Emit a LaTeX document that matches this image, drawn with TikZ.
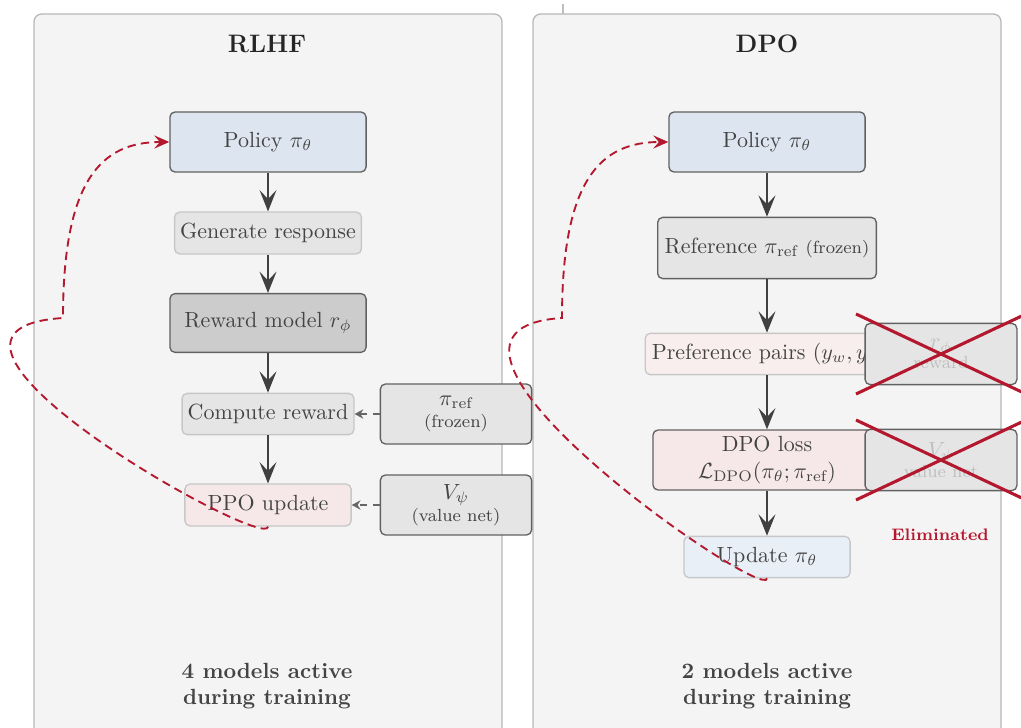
\documentclass[tikz,border=0pt]{standalone}
\usepackage{amsmath,amssymb}
\usepackage{xcolor}
\usepackage{tikz}
\usetikzlibrary{arrows.meta,positioning}
\definecolor{txtc}{RGB}{68,68,68}
\definecolor{elimc}{RGB}{180,24,46}
\definecolor{panelc}{RGB}{244,244,244}
\definecolor{polc}{RGB}{221,230,240}
\definecolor{updc}{RGB}{232,239,247}
\definecolor{lossc}{RGB}{246,232,232}
\definecolor{pairc}{RGB}{249,238,238}
\definecolor{stepc}{RGB}{229,229,229}
\definecolor{rmc}{RGB}{204,204,204}

\begin{document}
\begin{tikzpicture}[x=0.016cm,y=-0.016cm,font=\normalsize,
  panel/.style={draw=black!28,fill=panelc,rounded corners=3.5pt,line width=0.6pt},
  ttl/.style={font=\fontsize{11.5}{13}\selectfont\bfseries,text=black!85},
  box/.style={rounded corners=2.3pt,text=txtc,align=center,inner sep=2pt},
  solidbox/.style={box,draw=black!62,line width=0.6pt},
  softbox/.style={box,draw=black!22,line width=0.6pt},
  gone/.style={solidbox,fill=stepc,text=black!25,minimum width=2.43cm,minimum height=0.98cm},
  flow/.style={-{Stealth[length=3.4mm,width=2.7mm,inset=1.4mm]},line width=1.1pt,draw=black!75},
  side/.style={-{Stealth[length=1.4mm,width=1.5mm]},dashed,draw=black!60,line width=0.6pt},
  loopline/.style={-{Stealth[length=2.4mm,width=2.1mm,inset=0.9mm]},draw=elimc,
    dash pattern=on 3.8pt off 2.4pt,line width=0.85pt},
  xline/.style={draw=elimc,line width=1.4pt},
  foot/.style={font=\bfseries,text=txtc,align=center}]
\useasboundingbox (0,0) rectangle (1021,728);
\clip (0,0) rectangle (1021,728);
% ---- panels ----
\draw[black!25,line width=0.6pt] (563,4) -- (563,14);
\path[panel] (34,14) rectangle (502,740);
\path[panel] (533,14) rectangle (1001,740);
\node[ttl] (tl) at (267,44) {RLHF};
\node[ttl] (tr) at (767,44) {DPO};
% ---- LEFT: RLHF pipeline ----
\node[solidbox,fill=polc,minimum width=3.14cm,minimum height=0.96cm] (polL) at (268,142) {Policy $\pi_\theta$};
\node[softbox,fill=stepc,minimum width=2.99cm,minimum height=0.67cm] (gen) at (268,233) {Generate response};
\node[solidbox,fill=rmc,minimum width=3.14cm,minimum height=0.94cm] (rm) at (268,323) {Reward model $r_\phi$};
\node[softbox,fill=stepc,minimum width=2.75cm,minimum height=0.66cm] (comp) at (268,414) {Compute reward};
\node[softbox,fill=lossc,minimum width=2.66cm,minimum height=0.67cm] (ppo) at (268,505) {PPO update};
\node[solidbox,fill=stepc,minimum width=2.42cm,minimum height=0.96cm] (refL) at (456,414)
  {$\pi_{\text{ref}}$\\[-2pt]{\footnotesize (frozen)}};
\node[solidbox,fill=stepc,minimum width=2.42cm,minimum height=0.96cm] (val) at (456,505)
  {$V_\psi$\\[-2pt]{\footnotesize (value net)}};
\draw[flow] (polL) -- (gen);
\draw[flow] (gen) -- (rm);
\draw[flow] (rm) -- (comp);
\draw[flow] (comp) -- (ppo);
\draw[side] (refL) -- (comp);
\draw[side] (val) -- (ppo);
\node[foot] (fl) at (267,686) {4 models active\\during training};
% ---- RIGHT: DPO pipeline ----
\node[solidbox,fill=polc,minimum width=3.14cm,minimum height=0.96cm] (polR) at (767,142) {Policy $\pi_\theta$};
\node[solidbox,fill=stepc,minimum width=3.5cm,minimum height=0.98cm] (refR) at (767,248)
  {Reference $\pi_{\text{ref}}$ {\footnotesize (frozen)}};
\node[softbox,fill=pairc,minimum width=3.9cm,minimum height=0.66cm] (pairs) at (767,354) {Preference pairs $(y_w, y_l)$};
\node[solidbox,fill=lossc,minimum width=3.65cm,minimum height=0.96cm] (dpo) at (767,460)
  {DPO loss\\$\mathcal{L}_{\text{DPO}}(\pi_\theta;\pi_{\text{ref}})$};
\node[softbox,fill=updc,minimum width=2.66cm,minimum height=0.66cm] (upd) at (767,557) {Update $\pi_\theta$};
\draw[flow] (polR) -- (refR);
\draw[flow] (refR) -- (pairs);
\draw[flow] (pairs) -- (dpo);
\draw[flow] (dpo) -- (upd);
% crossed-out models
\node[gone] (rmx) at (941,354) {$r_\phi$\\[-3pt]{\footnotesize reward}};
\node[gone] (valx) at (941,460) {$V_\psi$\\[-3pt]{\footnotesize value net}};
\draw[xline] (rmx.center) ++(-85,-40) -- ++(170,80);
\draw[xline] (rmx.center) ++(-85,40) -- ++(170,-80);
\draw[xline] (valx.center) ++(-85,-40) -- ++(170,80);
\draw[xline] (valx.center) ++(-85,40) -- ++(170,-80);
\node[font=\fontsize{7.6}{9}\selectfont\bfseries,text=elimc] (elim) at (940,535) {Eliminated};
\node[foot] (fr) at (767,686) {2 models active\\during training};
% ---- update loops ----
\coordinate (kinkL) at (63,318);
\coordinate (kinkR) at (562,318);
\draw[loopline] (ppo.south) .. controls +(0,26) and +(-193,12) .. (kinkL)
  .. controls +(0,-138) and +(-68,0) .. (polL.west);
\draw[loopline] (upd.south) .. controls +(0,26) and +(-193,12) .. (kinkR)
  .. controls +(0,-138) and +(-68,0) .. (polR.west);
\end{tikzpicture}
\end{document}
